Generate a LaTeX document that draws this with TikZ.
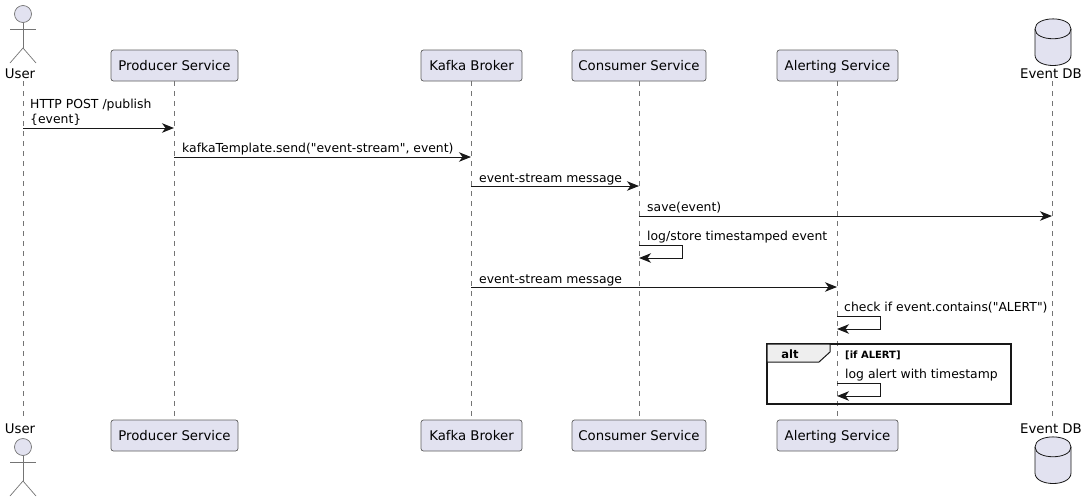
\documentclass[tikz,border=0pt]{standalone}
\usepackage{fontspec}
\setmainfont[Ligatures=TeXOff]{DejaVu Sans}
\usetikzlibrary{arrows.meta}
\definecolor{partfill}{HTML}{E2E2F0}
\definecolor{partline}{HTML}{181818}
\definecolor{tabfill}{HTML}{EEEEEE}
\tikzset{
  participant/.style={draw=partline!70, line width=0.7pt, fill=partfill, rounded corners=2.5pt, minimum height=31pt, inner sep=0pt, text height=12.5pt, text depth=3pt, font=\fontsize{13.3}{16}\selectfont},
  actorname/.style={font=\fontsize{13.3}{16}\selectfont, inner sep=0pt},
  actorline/.style={draw=partline!60, line width=0.7pt},
  lifeline/.style={draw=partline!60, line width=0.6pt, dash pattern=on 5pt off 5pt},
  message/.style={draw=partline, line width=1pt, -{Stealth[length=12pt,width=9.5pt,inset=3.5pt]}},
  msgtext/.style={font=\fontsize{12.4}{14.5}\selectfont, inner sep=0pt, anchor=base west, align=left},
}
\begin{document}
\begin{tikzpicture}[x=1pt,y=-1pt]
   \useasboundingbox (0,0) rectangle (1087,501);
   % head row
   \node[actorname] (userT) at (20,73.5) {User};
   \node[participant, minimum width=127pt] (prodT) at (174.5,65.5) {Producer Service};
   \node[participant, minimum width=101pt] (kafkaT) at (471.5,65.5) {Kafka Broker};
   \node[participant, minimum width=134pt] (consT) at (639,65.5) {Consumer Service};
   \node[participant, minimum width=121pt] (alertT) at (837.5,65.5) {Alerting Service};
   \node[actorname] (dbT) at (1051,73.5) {Event DB};
   % foot row
   \node[actorname] (userB) at (20,429) {User};
   \node[participant, minimum width=127pt] (prodB) at (174.5,435.5) {Producer Service};
   \node[participant, minimum width=101pt] (kafkaB) at (471.5,435.5) {Kafka Broker};
   \node[participant, minimum width=134pt] (consB) at (639,435.5) {Consumer Service};
   \node[participant, minimum width=121pt] (alertB) at (837.5,435.5) {Alerting Service};
   \node[actorname] (dbB) at (1051,429) {Event DB};
   % life lines
   \coordinate (userS) at (23,81);
   \coordinate (userE) at (23,420);
   \coordinate (dbS) at (1052,81);
   \coordinate (dbE) at (1052,420);
   \draw[lifeline] (userS) -- (userE);
   \draw[lifeline] (prodT) -- (prodB);
   \draw[lifeline] (kafkaT) -- (kafkaB);
   \draw[lifeline] (consT) -- (consB);
   \draw[lifeline] (alertT) -- (alertB);
   \draw[lifeline] (dbS) -- (dbE);
   % actors
   \foreach \name/\y in {top/0,foot/433}{
     \begin{scope}[yshift=-\y pt]
       \node[circle, actorline, fill=partfill, minimum size=17pt, inner sep=0pt] (head\name) at (23,14) {};
       \coordinate (hip\name) at (23,48);
       \draw[actorline] (head\name) -- (hip\name);
       \draw[actorline] (10,29) -- (36,29);
       \draw[actorline] (10,63) -- (hip\name) -- (36,63);
     \end{scope}
   }
   % databases
   \foreach \name/\y in {top/0,foot/418}{
     \begin{scope}[yshift=-\y pt]
       \draw[partline, line width=0.8pt, fill=partfill] (1035,29) .. controls (1035,15.5) and (1071,15.5) .. (1071,29) -- (1071,55) .. controls (1071,69) and (1035,69) .. (1035,55) -- cycle;
       \draw[partline, line width=0.8pt] (1035,29) .. controls (1035,42) and (1071,42) .. (1071,29);
     \end{scope}
   }
   % alt frame
   \draw[partline, line width=1.6pt] (767,344) rectangle (1011,404);
   \draw[partline, line width=1pt, fill=tabfill] (767,344) -- (830,344) -- (830,352) -- (819,362) -- (767,362) -- cycle;
   \node[font=\bfseries\fontsize{11.5}{13}\selectfont, inner sep=0pt] (altlabel) at (790,354) {alt};
   \node[msgtext, font=\bfseries\fontsize{10}{11}\selectfont] (guard) at (845,358) {[if ALERT]};
   % messages
   \coordinate (m1a) at (23,128);
   \coordinate (m1b) at (174,128);
   \coordinate (m2a) at (174,157);
   \coordinate (m2b) at (471,157);
   \coordinate (m3a) at (471,186);
   \coordinate (m3b) at (639,186);
   \coordinate (m4a) at (639,216);
   \coordinate (m4b) at (1052,216);
   \coordinate (m5a) at (639,245);
   \coordinate (m5b) at (639,258);
   \coordinate (m6a) at (471,287);
   \coordinate (m6b) at (837,287);
   \coordinate (m7a) at (837,316);
   \coordinate (m7b) at (837,329);
   \coordinate (m8a) at (837,383);
   \coordinate (m8b) at (837,396);
   \draw[message] (m1a) -- (m1b);
   \draw[message] (m2a) -- (m2b);
   \draw[message] (m3a) -- (m3b);
   \draw[message] (m4a) -- (m4b);
   \draw[message] (m5a) -- ++(43,0) -- ++(0,13) -- (m5b);
   \draw[message] (m6a) -- (m6b);
   \draw[message] (m7a) -- ++(43,0) -- ++(0,13) -- (m7b);
   \draw[message] (m8a) -- ++(43,0) -- ++(0,13) -- (m8b);
   \node[msgtext] (t1) at (30,108) {HTTP POST /publish};
   \node[msgtext] (t1b) at (30,123) {\{event\}};
   \node[msgtext] (t2) at (182,152) {kafkaTemplate.send("event-stream", event)};
   \node[msgtext] (t3) at (479,182) {event-stream message};
   \node[msgtext] (t4) at (647,211) {save(event)};
   \node[msgtext] (t5) at (647,240) {log/store timestamped event};
   \node[msgtext] (t6) at (479,283) {event-stream message};
   \node[msgtext] (t7) at (844,311) {check if event.contains("ALERT")};
   \node[msgtext] (t8) at (845,378) {log alert with timestamp};
\end{tikzpicture}
\end{document}
